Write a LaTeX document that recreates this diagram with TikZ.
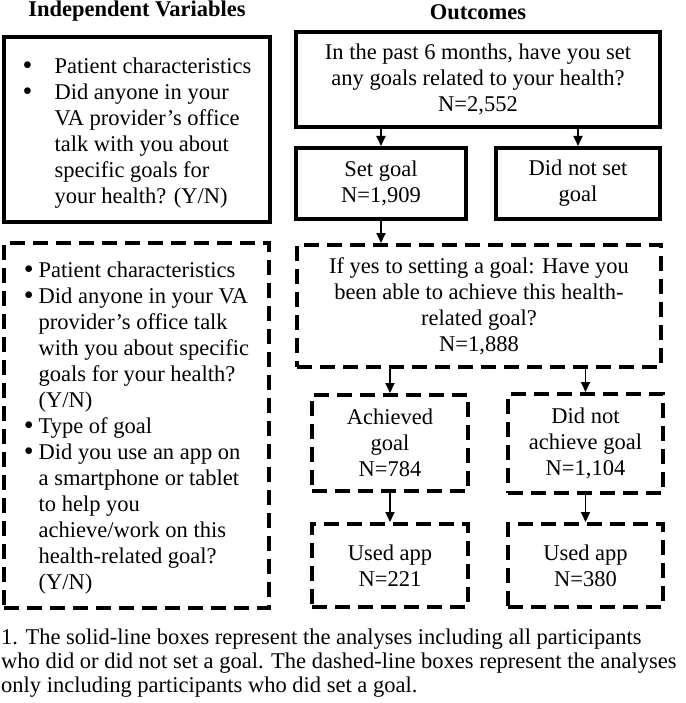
\documentclass[tikz,border=0pt]{standalone}
\usepackage{fontspec}
\usepackage{graphicx}
\setmainfont{Liberation Serif}
\usetikzlibrary{arrows.meta}

\newcommand{\bul}{\raisebox{-0.5pt}{\scalebox{1.25}{\textbullet}}}

\tikzset{
  boxtext/.style={font=\fontsize{22.5}{26}\selectfont, align=center, inner sep=0pt},
  solidbox/.style={boxtext, draw, line width=4pt},
  dashbox/.style={boxtext, draw, line width=4pt, dash pattern=on 15pt off 8pt},
  flowarrow/.style={line width=1.8pt, -{Triangle[width=9pt,length=10pt]}},
}

\begin{document}
\begin{tikzpicture}[x=1pt,y=-1pt]
\useasboundingbox (0,0) rectangle (685,703);

% headings
\node[boxtext, font=\bfseries\fontsize{22.5}{26}\selectfont, anchor=base] (ivhead) at (137,17) {Independent Variables};
\node[boxtext, font=\bfseries\fontsize{22.5}{26}\selectfont, anchor=base] (outhead) at (478,20) {Outcomes};

% solid-line analyses
\node[solidbox, minimum width=266pt, minimum height=185pt] (allvars) at (137,129.5) {%
  \raisebox{-4pt}[\height][\depth]{\begin{tabular}{@{}l@{\hspace{22pt}}l@{}}
  \bul & Patient characteristics\\
  \bul & Did anyone in your\\
       & VA provider’s office\\
       & talk with you about\\
       & specific goals for\\
       & your health? (Y/N)
  \end{tabular}}};
\node[solidbox, minimum width=364pt, minimum height=95pt] (setq) at (478,79.5)
  {In the past 6 months, have you set\\any goals related to your health?\\N=2,552};
\node[solidbox, minimum width=170pt, minimum height=71pt] (setgoal) at (381,183.5)
  {Set goal\\N=1,909};
\node[solidbox, minimum width=164pt, minimum height=71pt] (nogoal) at (578,183.5)
  {Did not set\\goal};

% dashed-line analyses
\node[dashbox, minimum width=265pt, minimum height=365pt] (goalvars) at (136.5,425.5) {%
  \raisebox{-3pt}[\height][\depth]{\begin{tabular}{@{}l@{\hspace{5pt}}l@{}}
  \bul & Patient characteristics\\
  \bul & Did anyone in your VA\\
       & provider’s office talk\\
       & with you about specific\\
       & goals for your health?\\
       & (Y/N)\\
  \bul & Type of goal\\
  \bul & Did you use an app on\\
       & a smartphone or tablet\\
       & to help you\\
       & achieve/work on this\\
       & health-related goal?\\
       & (Y/N)
  \end{tabular}}};
\node[dashbox, minimum width=364pt, minimum height=122pt] (achq) at (479,306)
  {If yes to setting a goal: Have you\\been able to achieve this health-\\related goal?\\N=1,888};
\node[dashbox, minimum width=156pt, minimum height=96pt] (achieved) at (390,443)
  {Achieved\\goal\\N=784};
\node[dashbox, minimum width=155pt, minimum height=99pt] (notach) at (585.5,443.5)
  {Did not\\achieve goal\\N=1,104};
\node[dashbox, minimum width=156pt, minimum height=83pt] (appach) at (390,565.5)
  {Used app\\N=221};
\node[dashbox, minimum width=155pt, minimum height=83pt] (appnot) at (585.5,565.5)
  {Used app\\N=380};

% arrows
\draw[flowarrow] (setgoal.north |- setq.south) -- (setgoal.north);
\draw[flowarrow] (nogoal.north |- setq.south) -- (nogoal.north);
\draw[flowarrow] (setgoal.south) -- (setgoal.south |- achq.north);
\draw[flowarrow] (achieved.north |- achq.south) -- (achieved.north);
\draw[flowarrow] (notach.north |- achq.south) -- (notach.north);
\draw[flowarrow] (achieved.south) -- (appach.north);
\draw[flowarrow] (notach.south) -- (appnot.north);

% footnote
\node[boxtext, align=left, anchor=north west, font=\fontsize{22.5}{24}\selectfont] (note) at (1,629)
  {1. The solid-line boxes represent the analyses including all participants\\
   who did or did not set a goal. The dashed-line boxes represent the analyses\\
   only including participants who did set a goal.};
\end{tikzpicture}
\end{document}
